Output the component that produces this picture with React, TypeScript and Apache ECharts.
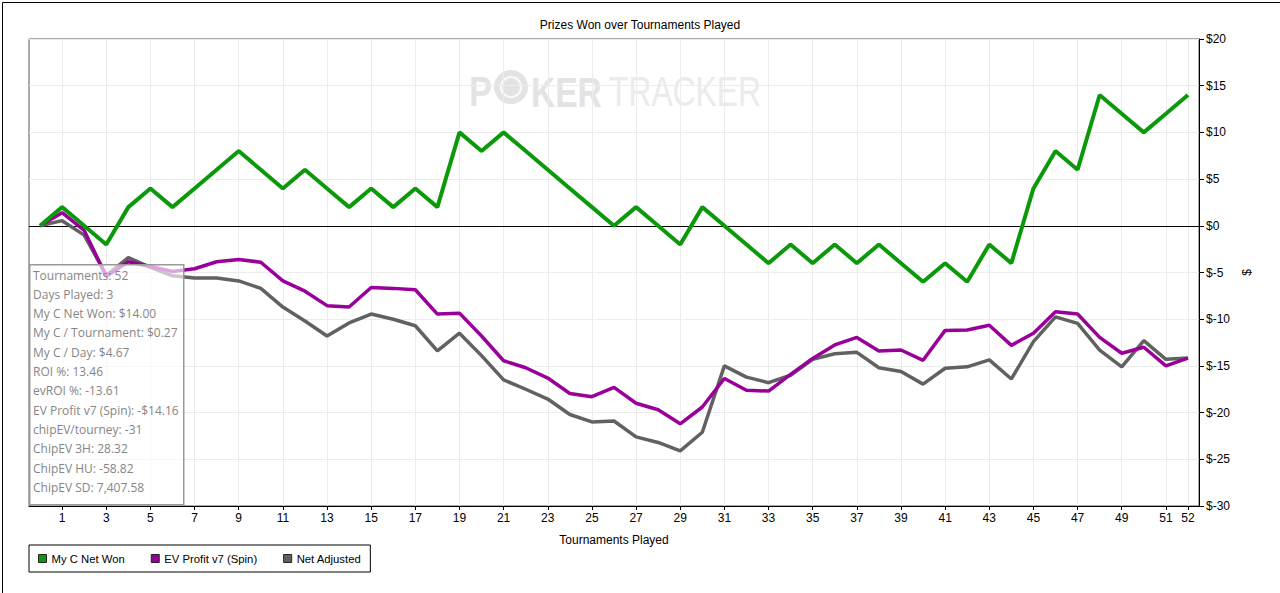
import React, { useEffect, useRef } from "react";
import * as echarts from "echarts";

const tournaments: number[] = Array.from({ length: 53 }, (_, i) => i);
const xTickLabels: number[] = [1, 3, 5, 7, 9, 11, 13, 15, 17, 19, 21, 23, 25, 27, 29, 31, 33, 35, 37, 39, 41, 43, 45, 47, 49, 51, 52];
const yTicks = { min: -30, max: 20, step: 5 };

const netWon: number[] = [
  0, 2, 0, -2, 2, 4, 2, 4, 6, 8,
  6, 4, 6, 4, 2, 4, 2, 4, 2, 10,
  8, 10, 8, 6, 4, 2, 0, 2, 0, -2,
  2, 0, -2, -4, -2, -4, -2, -4, -2, -4,
  -6, -4, -6, -2, -4, 4, 8, 6, 14, 12,
  10, 12, 14,
];
const evProfit: number[] = [
  0, 1.4, -0.5, -5.4, -3.85, -4.35, -4.9, -4.6, -3.85, -3.6,
  -3.9, -5.9, -7.0, -8.55, -8.7, -6.6, -6.7, -6.85, -9.45, -9.35,
  -11.8, -14.45, -15.2, -16.3, -17.95, -18.3, -17.3, -19.0, -19.7, -21.2,
  -19.4, -16.35, -17.6, -17.7, -15.9, -14.2, -12.75, -11.95, -13.4, -13.3,
  -14.4, -11.2, -11.15, -10.65, -12.8, -11.5, -9.2, -9.45, -11.95, -13.65,
  -13.0, -15.0, -14.16,
];
const netAdjusted: number[] = [
  0, 0.55, -1.0, -5.3, -3.4, -4.45, -5.35, -5.6, -5.6, -5.9,
  -6.7, -8.7, -10.2, -11.8, -10.4, -9.45, -10.0, -10.7, -13.4, -11.5,
  -13.9, -16.5, -17.5, -18.55, -20.2, -21.0, -20.9, -22.6, -23.2, -24.1,
  -22.1, -15.0, -16.2, -16.8, -16.0, -14.3, -13.7, -13.55, -15.2, -15.6,
  -16.95, -15.25, -15.1, -14.35, -16.4, -12.4, -9.75, -10.45, -13.3, -15.1,
  -12.3, -14.3, -14.15,
];
const seriesNames: string[] = ["My C Net Won", "EV Profit v7 (Spin)", "Net Adjusted"];
const statsLines: string[] = [
  "Tournaments: 52",
  "Days Played: 3",
  "My C Net Won: $14.00",
  "My C / Tournament: $0.27",
  "My C / Day: $4.67",
  "ROI %: 13.46",
  "evROI %: -13.61",
  "EV Profit v7 (Spin): -$14.16",
  "chipEV/tourney: -31",
  "ChipEV 3H: 28.32",
  "ChipEV HU: -58.82",
  "ChipEV SD: 7,407.58",
];

const FONT = "'Liberation Sans', Arial, sans-serif";

export default function App() {
  const ref = useRef<HTMLDivElement>(null);
  useEffect(() => {
    if (!ref.current) return;
    const chart = echarts.init(ref.current, undefined, { renderer: "svg" });
    const toPairs = (arr: number[]) => arr.map((v, i) => [tournaments[i], v]);

    const statsTexts = statsLines.map((t, i) => ({
      type: "text",
      left: 33,
      top: 269 + i * 19.3,
      z: 101,
      style: { text: t, fill: "#858585", font: "12px 'Open Sans', 'Noto Sans', sans-serif" },
    }));

    chart.setOption({
      animation: false,
      backgroundColor: "#ffffff",
      title: {
        text: "Prizes Won over Tournaments Played",
        left: "center",
        top: 14,
        textStyle: { fontFamily: FONT, fontSize: 12, fontWeight: "normal", color: "#000" },
      },
      legend: {
        data: seriesNames,
        left: 29,
        top: 545,
        orient: "horizontal",
        icon: "rect",
        itemWidth: 8,
        itemHeight: 8,
        itemGap: 26,
        padding: [8, 9, 8, 9],
        borderColor: "#000",
        borderWidth: 1,
        itemStyle: { borderColor: "#222", borderWidth: 1 },
        textStyle: { fontFamily: FONT, fontSize: 11.3, color: "#000" },
      },
      grid: {
        left: 29,
        right: 81,
        top: 39,
        bottom: 87,
        show: true,
        borderColor: "#555",
        borderWidth: 1,
      },
      xAxis: {
        type: "value",
        min: -0.5,
        max: 52.5,
        name: "Tournaments Played",
        nameLocation: "middle",
        nameGap: 28,
        nameTextStyle: { fontFamily: FONT, fontSize: 12, color: "#000" },
        axisLine: { show: true, onZero: false, lineStyle: { color: "#000", width: 1 } },
        axisTick: { show: true, customValues: xTickLabels, length: 4, lineStyle: { color: "#000" } },
        axisLabel: {
          customValues: xTickLabels,
          fontFamily: FONT,
          fontSize: 12,
          color: "#000",
          margin: 6,
        },
        splitLine: { show: true, lineStyle: { color: "#ececec", width: 1 } },
      },
      yAxis: {
        type: "value",
        position: "right",
        min: yTicks.min,
        max: yTicks.max,
        interval: yTicks.step,
        name: "$",
        nameLocation: "middle",
        nameGap: 42,
        nameTextStyle: { fontFamily: FONT, fontSize: 12, color: "#000" },
        axisLine: { show: true, onZero: false, lineStyle: { color: "#000", width: 1 } },
        axisTick: { show: true, length: 5, lineStyle: { color: "#000" } },
        axisLabel: {
          formatter: (v: number) => `$${v}`,
          fontFamily: FONT,
          fontSize: 12,
          color: "#000",
          margin: 7,
        },
        splitLine: { show: true, lineStyle: { color: "#ececec", width: 1 } },
      },
      series: [
        {
          name: seriesNames[0],
          type: "line",
          data: toPairs(netWon),
          showSymbol: false,
          symbol: "none",
          z: 5,
          itemStyle: { color: "#0b990b" },
          lineStyle: { color: "#0b990b", width: 4 },
          markLine: {
            silent: true,
            symbol: ["none", "none"],
            label: { show: false },
            lineStyle: { color: "#000", width: 1, type: "solid" },
            data: [{ yAxis: 0 }],
            z: 1,
          },
        },
        {
          name: seriesNames[1],
          type: "line",
          data: toPairs(evProfit),
          showSymbol: false,
          symbol: "none",
          z: 4,
          itemStyle: { color: "#990099" },
          lineStyle: { color: "#990099", width: 3.5 },
        },
        {
          name: seriesNames[2],
          type: "line",
          data: toPairs(netAdjusted),
          showSymbol: false,
          symbol: "none",
          z: 3,
          itemStyle: { color: "#616161" },
          lineStyle: { color: "#616161", width: 3.5 },
        },
      ],
      graphic: [
        {
          type: "group",
          z: 0,
          silent: true,
          children: [
            {
              type: "text",
              x: 469,
              y: 70,
              scaleX: 0.8,
              z: 0,
              style: { text: "P", fill: "#e3e3e3", font: `bold 43px ${FONT}` },
            },
            {
              type: "circle",
              shape: { cx: 511, cy: 87, r: 17 },
              z: 0,
              style: { fill: "#e3e3e3" },
            },
            {
              type: "circle",
              shape: { cx: 511, cy: 87, r: 10 },
              z: 0,
              style: { fill: "none", stroke: "#fafafa", lineWidth: 2 },
            },
            {
              type: "text",
              x: 531,
              y: 70,
              scaleX: 0.78,
              z: 0,
              style: { text: "KER", fill: "#e3e3e3", font: `bold 43px ${FONT}` },
            },
            {
              type: "text",
              x: 609,
              y: 70,
              scaleX: 0.74,
              z: 0,
              style: { text: "TRACKER", fill: "#ebebeb", font: `43px ${FONT}` },
            },
          ],
        },
        {
          type: "rect",
          left: 29,
          top: 264,
          z: 100,
          shape: { width: 154, height: 240 },
          style: { fill: "rgba(255,255,255,0.65)", stroke: "#999", lineWidth: 1.5 },
        },
        ...statsTexts,
        {
          type: "rect",
          left: 0,
          top: 0,
          z: 100,
          shape: { x: 0.5, y: 0.5, width: 1279, height: 592 },
          style: { fill: "none", stroke: "#000", lineWidth: 1 },
        },
      ],
    });
    return () => chart.dispose();
  }, []);
  return (
    <div
      ref={ref}
      style={{ position: "fixed", left: 0, top: 0, width: 1280, height: 593 }}
    />
  );
}
